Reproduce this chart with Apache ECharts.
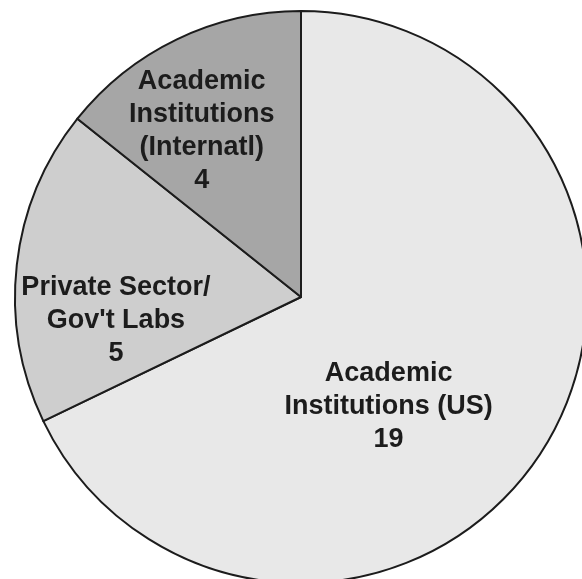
<!DOCTYPE html>
<html>
<head>
<meta charset="utf-8">
<script src="https://cdn.jsdelivr.net/npm/echarts@6/dist/echarts.min.js"></script>
<style>
html,body{margin:0;padding:0;background:#fff;}
#c{width:582px;height:579px;}
</style>
</head>
<body>
<div id="c"></div>
<script>
const categories = ["Academic\nInstitutions (US)", "Private Sector/\nGov't Labs", "Academic\nInstitutions\n(Internatl)"];
const values = [19, 5, 4];
const colors = ["#e8e8e8", "#cecece", "#a6a6a6"];
const labelOffsets = [[-36, 32], [-40, 40], [-36, -34]];

const chart = echarts.init(document.getElementById('c'), null, {renderer: 'canvas'});
chart.setOption({
  backgroundColor: '#ffffff',
  animation: false,
  series: [{
    type: 'pie',
    center: [301, 297],
    radius: [0, 286],
    startAngle: 90,
    clockwise: true,
    avoidLabelOverlap: false,
    label: {
      show: true,
      position: 'inside',
      formatter: '{b}\n{c}',
      fontFamily: 'Liberation Sans',
      fontWeight: 'bold',
      fontSize: 27,
      lineHeight: 33,
      color: '#1c1c1c',
      align: 'center'
    },
    labelLine: {show: false},
    itemStyle: {borderColor: '#1c1c1c', borderWidth: 2},
    emphasis: {disabled: true},
    data: categories.map((n, i) => ({
      name: n,
      value: values[i],
      itemStyle: {color: colors[i]},
      label: {offset: labelOffsets[i]}
    }))
  }]
});
</script>
</body>
</html>
